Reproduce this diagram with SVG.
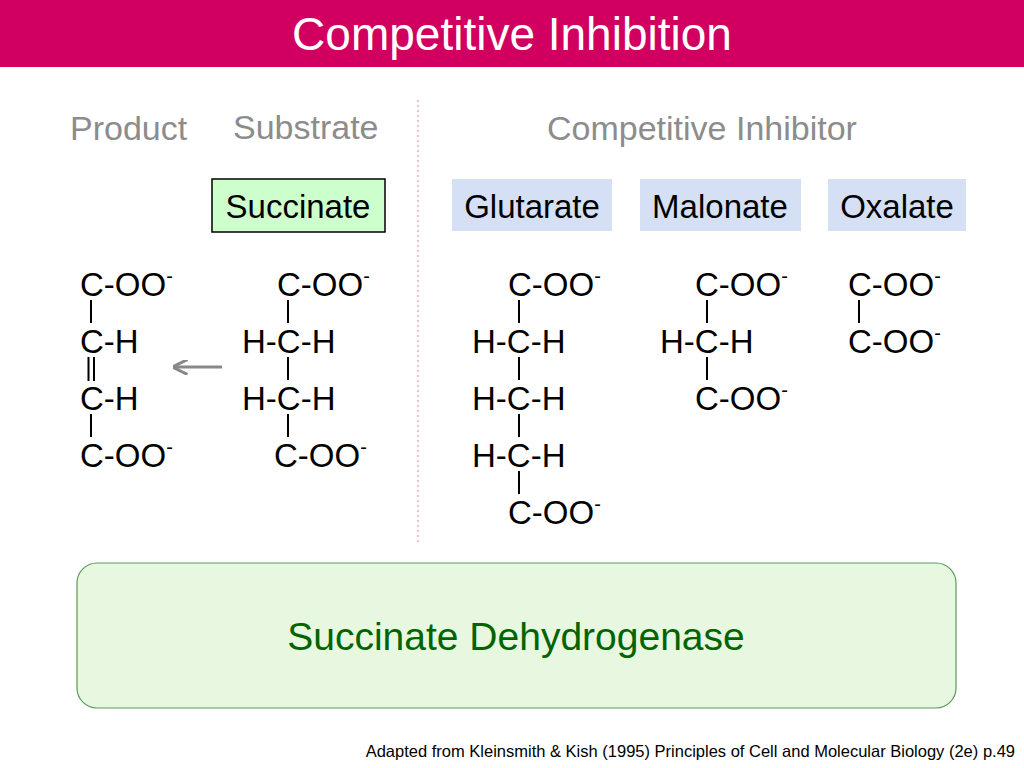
<svg xmlns="http://www.w3.org/2000/svg" width="1024" height="768" viewBox="0 0 1024 768">
<style>
text{font-family:"Liberation Sans",Arial,sans-serif}
.c{font-size:33px;fill:#000}
.s{font-size:20px}
.h{font-size:34px;fill:#8c8c8c}
.b{stroke:#000;stroke-width:2}
.lb{font-size:33px;fill:#000;text-anchor:middle}
</style>
<defs>
<marker id="ah" viewBox="0 0 10 10" refX="9" refY="5" markerWidth="5" markerHeight="5" orient="auto"><path d="M0,0 L10,5 L0,10" fill="none" stroke="#888" stroke-width="2"/></marker>
</defs>
<rect width="1024" height="768" fill="#fff"/>
<rect x="0" y="0" width="1024" height="67" fill="#d10060"/>
<text x="512" y="50" text-anchor="middle" font-size="46" fill="#fff">Competitive Inhibition</text>
<text class="h" x="70" y="140">Product</text>
<text class="h" x="233" y="139">Substrate</text>
<text class="h" x="547" y="140">Competitive Inhibitor</text>
<line x1="418" y1="100" x2="418" y2="545" stroke="#e080b0" stroke-width="1" stroke-dasharray="2,3"/>

<g id="succinate-label"><rect x="212" y="179" width="173" height="53" fill="#ccffcc" stroke="#000" stroke-width="1.5"/><text class="lb" x="298" y="218">Succinate</text></g>
<g id="glutarate-label"><rect x="452" y="179" width="160" height="52" fill="#d6e0f5"/><text class="lb" x="532" y="218">Glutarate</text></g>
<g id="malonate-label"><rect x="640" y="179" width="161" height="52" fill="#d6e0f5"/><text class="lb" x="720" y="218">Malonate</text></g>
<g id="oxalate-label"><rect x="828" y="179" width="138" height="52" fill="#d6e0f5"/><text class="lb" x="897" y="218">Oxalate</text></g>

<g id="product">
<text class="c" x="80" y="296">C-OO<tspan class="s" dy="-13">-</tspan></text>
<line class="b" x1="91" y1="300" x2="91" y2="323"/>
<text class="c" x="80" y="353">C-H</text>
<line class="b" x1="88.5" y1="357" x2="88.5" y2="381"/>
<line class="b" x1="94" y1="357" x2="94" y2="381"/>
<text class="c" x="80" y="410">C-H</text>
<line class="b" x1="91" y1="414" x2="91" y2="437"/>
<text class="c" x="80" y="467">C-OO<tspan class="s" dy="-13">-</tspan></text>
</g>
<g id="substrate">
<text class="c" x="277" y="296">C-OO<tspan class="s" dy="-13">-</tspan></text>
<line class="b" x1="288" y1="300" x2="288" y2="323"/>
<text class="c" x="242" y="353">H-C-H</text>
<line class="b" x1="288" y1="357" x2="288" y2="380"/>
<text class="c" x="242" y="410">H-C-H</text>
<line class="b" x1="288" y1="414" x2="288" y2="437"/>
<text class="c" x="274" y="467">C-OO<tspan class="s" dy="-13">-</tspan></text>
</g>
<g id="glutarate">
<text class="c" x="508" y="296">C-OO<tspan class="s" dy="-13">-</tspan></text>
<line class="b" x1="519" y1="300" x2="519" y2="323"/>
<text class="c" x="472" y="353">H-C-H</text>
<line class="b" x1="519" y1="357" x2="519" y2="380"/>
<text class="c" x="472" y="410">H-C-H</text>
<line class="b" x1="519" y1="414" x2="519" y2="437"/>
<text class="c" x="472" y="467">H-C-H</text>
<line class="b" x1="519" y1="471" x2="519" y2="494"/>
<text class="c" x="508" y="524">C-OO<tspan class="s" dy="-13">-</tspan></text>
</g>
<g id="malonate">
<text class="c" x="695" y="296">C-OO<tspan class="s" dy="-13">-</tspan></text>
<line class="b" x1="707" y1="300" x2="707" y2="323"/>
<text class="c" x="660" y="353">H-C-H</text>
<line class="b" x1="707" y1="357" x2="707" y2="380"/>
<text class="c" x="695" y="410">C-OO<tspan class="s" dy="-13">-</tspan></text>
</g>
<g id="oxalate">
<text class="c" x="848" y="296">C-OO<tspan class="s" dy="-13">-</tspan></text>
<line class="b" x1="859" y1="300" x2="859" y2="323"/>
<text class="c" x="848" y="353">C-OO<tspan class="s" dy="-13">-</tspan></text>
</g>
<g id="connectors">
<line x1="222" y1="367" x2="174" y2="367" stroke="#888" stroke-width="3" marker-end="url(#ah)"/>
</g>
<g id="enzyme">
<rect x="77" y="563" width="879" height="145" rx="20" fill="#e8f8e0" stroke="#5a9a5a" stroke-width="1.2"/>
<text x="516" y="650" text-anchor="middle" font-size="39" fill="#006400">Succinate Dehydrogenase</text>
</g>
<text x="1015" y="757" text-anchor="end" font-size="16.5" fill="#000">Adapted from Kleinsmith &amp; Kish (1995) Principles of Cell and Molecular Biology (2e) p.49</text>
</svg>
